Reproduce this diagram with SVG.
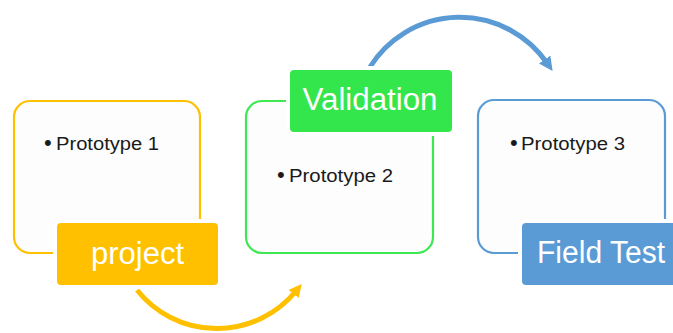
<svg xmlns="http://www.w3.org/2000/svg" width="673" height="333" viewBox="0 0 673 333">
  <style>
    .box { fill: #fdfdfd; stroke-width: 2.2; }
    .label { stroke: #ffffff; stroke-width: 8; paint-order: stroke; }
    .item { font-family: "Liberation Sans", Arial, sans-serif; font-size: 18px; fill: #1a1a1a; }
    .dot { font-size: 22px; }
    .title { font-family: "Liberation Sans", Arial, sans-serif; font-size: 31px; fill: #ffffff; text-anchor: middle; }
    .arc { fill: none; stroke-width: 5; stroke-linecap: butt; }
  </style>
  <defs>
    <marker id="headYellow" viewBox="0 0 10 10" refX="3" refY="5" markerWidth="2.6" markerHeight="2.6" orient="auto" markerUnits="strokeWidth">
      <path d="M0,0 L10,5 L0,10 Z" fill="#ffc000"/>
    </marker>
    <marker id="headBlue" viewBox="0 0 10 10" refX="3" refY="5" markerWidth="2.8" markerHeight="2.8" orient="auto" markerUnits="strokeWidth">
      <path d="M0,0 L10,5 L0,10 Z" fill="#5b9bd5"/>
    </marker>
  </defs>

  <rect width="673" height="333" fill="#ffffff"/>

  <g id="connectors">
    <path class="arc" stroke="#ffc000" d="M137,290 A102,102 0 0 0 296,291" marker-end="url(#headYellow)"/>
    <path class="arc" stroke="#5b9bd5" stroke-width="4.5" d="M370,67 A106,106 0 0 1 547,63" marker-end="url(#headBlue)"/>
  </g>

  <g id="node-project">
    <rect class="box" x="14" y="101" width="186" height="152" rx="16" stroke="#ffc000"/>
    <text class="item" y="149"><tspan class="dot" x="44" y="150">•</tspan><tspan x="56" textLength="103" lengthAdjust="spacingAndGlyphs">Prototype 1</tspan></text>
    <rect class="label" x="57" y="223" width="161" height="62" rx="4" fill="#ffc000"/>
    <text class="title" x="137.5" y="264" font-size="32">project</text>
  </g>

  <g id="node-validation">
    <rect class="box" x="246" y="101" width="187" height="152" rx="16" stroke="#3de851"/>
    <text class="item" y="181"><tspan class="dot" x="277" y="182">•</tspan><tspan x="289" textLength="104" lengthAdjust="spacingAndGlyphs">Prototype 2</tspan></text>
    <rect class="label" x="290" y="70" width="162" height="62" rx="4" fill="#33e64b"/>
    <text class="title" x="370" y="110" textLength="135" lengthAdjust="spacingAndGlyphs">Validation</text>
  </g>

  <g id="node-field-test">
    <rect class="box" x="478" y="100" width="187" height="153" rx="16" stroke="#5b9bd5"/>
    <text class="item" y="149"><tspan class="dot" x="510" y="150">•</tspan><tspan x="521" textLength="104" lengthAdjust="spacingAndGlyphs">Prototype 3</tspan></text>
    <rect class="label" x="522" y="223" width="160" height="62" rx="4" fill="#5b9bd5"/>
    <text class="title" x="601" y="263" textLength="128" lengthAdjust="spacingAndGlyphs">Field Test</text>
  </g>
</svg>
